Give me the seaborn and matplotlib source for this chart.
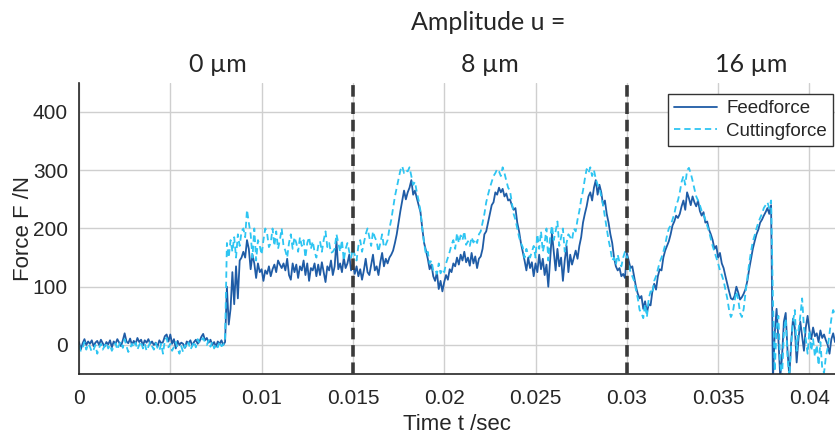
import numpy as np
import pandas as pd
import matplotlib
matplotlib.use('Agg')
import matplotlib.pyplot as plt
import seaborn as sns

SAMPLE_STEP = 0.0001

feed_force = [
    5, -8, 3, 10, 0, 6, 2, 8, -2, 4,
    7, 0, 9, 3, -3, 5, 1, 8, -4, 6,
    2, 10, 4, -2, 8, 20, 6, 3, 11, 0,
    7, 2, 12, 5, 9, -1, 8, 4, 10, 2,
    6, 0, 4, -3, 8, 3, 5, 15, 18, 6,
    18, 2, 10, -6, 7, 0, 4, 2, -5, 6,
    3, 8, -1, 5, 9, 2, 6, 14, 19, 8,
    12, 4, 9, 0, 5, -3, 6, 2, 8, 0,
    5, 100, 35, 62, 125, 70, 135, 80, 145, 150,
    160, 150, 180, 165, 130, 155, 140, 115, 140, 125,
    130, 110, 128, 122, 135, 118, 130, 138, 125, 145,
    138, 132, 140, 128, 148, 120, 112, 140, 125, 138,
    115, 135, 128, 145, 120, 140, 110, 132, 128, 140,
    118, 138, 120, 142, 125, 108, 135, 128, 145, 120,
    135, 178, 130, 140, 125, 150, 132, 140, 155, 128,
    140, 122, 135, 118, 130, 112, 128, 148, 125, 120,
    138, 155, 128, 135, 120, 142, 158, 135, 148, 140,
    150, 155, 162, 175, 190, 210, 230, 248, 265, 250,
    262, 270, 283, 258, 265, 252, 240, 228, 200, 175,
    162, 148, 130, 138, 118, 110, 125, 96, 110, 92,
    108, 120, 112, 130, 125, 140, 135, 150, 138, 155,
    145, 160, 142, 150, 136, 158, 140, 152, 132, 148,
    152, 165, 190, 195, 210, 225, 240, 245, 262, 258,
    270, 262, 268, 255, 260, 248, 250, 240, 232, 235,
    210, 195, 175, 160, 145, 128, 150, 132, 142, 118,
    140, 125, 155, 130, 148, 120, 138, 100, 145, 192,
    160, 128, 165, 135, 150, 110, 145, 170, 125, 155,
    138, 150, 162, 148, 170, 185, 210, 225, 238, 255,
    262, 248, 270, 283, 258, 275, 262, 240, 248, 225,
    210, 190, 175, 150, 135, 128, 132, 118, 122, 115,
    158, 145, 132, 135, 118, 100, 88, 80, 84, 62,
    75, 55, 70, 68, 92, 105, 95, 118, 130, 128,
    150, 162, 170, 178, 190, 205, 212, 222, 218, 225,
    238, 248, 232, 262, 252, 240, 255, 245, 238, 248,
    230, 222, 228, 210, 212, 198, 190, 180, 165, 170,
    150, 158, 140, 132, 118, 105, 92, 80, 78, 84,
    100, 90, 78, 82, 88, 96, 110, 130, 148, 165,
    178, 190, 198, 210, 215, 222, 228, 235, 225, 240,
    -60, 20, 62, 10, -55, -20, 40, 55, -10, -55,
    5, 45, 30, -30, 10, 40, 15, -10, 30, 50,
    25, 10, 30, 15, 20, 5, 25, 12, 18, 8,
    0, -15, 10, 20, 5,
]

cutting_force = [
    0, -10, -5, 5, -8, 2, -3, -12, -8, 0,
    -15, -5, 2, -8, -2, 4, -6, 0, -10, -3,
    3, -8, 0, 6, -5, 10, -2, -12, -6, 2,
    -4, 4, -8, 0, 6, -6, 2, -10, -3, 5,
    -2, -8, 3, -5, -10, 2, -15, 8, 12, -4,
    2, -10, -3, 5, -6, -15, -2, -12, 0, -5,
    4, -8, -2, 6, -4, 10, 3, 8, 12, 5,
    0, 8, -3, 5, -6, 2, -4, 6, -2, 0,
    10, 175, 150, 180, 160, 185, 150, 190, 170, 195,
    200, 185, 232, 210, 190, 150, 200, 145, 180, 170,
    155, 180, 200, 192, 168, 175, 200, 170, 195, 165,
    180, 200, 170, 162, 150, 175, 190, 165, 185, 175,
    160, 185, 170, 180, 150, 175, 185, 165, 178, 160,
    150, 170, 178, 160, 180, 195, 168, 175, 158, 160,
    165, 190, 175, 160, 180, 145, 165, 175, 160, 150,
    165, 155, 145, 170, 180, 160, 175, 190, 200, 185,
    170, 195, 185, 178, 160, 175, 190, 168, 172, 180,
    200, 215, 235, 255, 270, 285, 300, 307, 295, 300,
    298, 305, 290, 275, 280, 262, 248, 230, 200, 175,
    155, 160, 140, 145, 128, 130, 122, 140, 123, 130,
    125, 140, 150, 160, 172, 180, 165, 192, 175, 188,
    180, 195, 172, 178, 170, 185, 176, 182, 175, 190,
    195, 210, 225, 245, 258, 270, 280, 290, 295, 302,
    298, 290, 305, 295, 282, 270, 265, 245, 225, 215,
    200, 185, 175, 168, 150, 165, 155, 150, 160, 170,
    150, 190, 165, 195, 160, 175, 200, 145, 185, 205,
    180, 195, 212, 170, 185, 200, 160, 175, 190, 185,
    180, 200, 195, 215, 230, 250, 265, 285, 302, 295,
    305, 290, 300, 285, 275, 270, 255, 240, 220, 200,
    180, 165, 145, 150, 138, 155, 142, 135, 150, 160,
    152, 140, 125, 118, 110, 95, 80, 60, 55, 46,
    70, 48, 80, 92, 88, 110, 118, 130, 142, 150,
    160, 172, 188, 200, 205, 215, 225, 240, 248, 262,
    280, 290, 275, 300, 304, 295, 282, 268, 255, 248,
    240, 230, 225, 215, 205, 195, 182, 170, 160, 150,
    140, 128, 120, 110, 95, 80, 60, 48, 55, 75,
    92, 78, 55, 48, 62, 90, 115, 140, 160, 178,
    188, 200, 210, 218, 225, 235, 240, 245, 235, 248,
    80, -45, 30, 50, -30, -55, 20, 45, -20, -55,
    0, 40, 60, -10, 25, 50, 80, 30, 10, -15,
    25, -10, 10, -20, 0, -35, 5, -40, -48, -20,
    -5, 20, 45, 60, 52,
]

phase_bounds = [0.015, 0.03]
amplitude_labels = ['0 µm', '8 µm', '16 µm']
amplitude_x = [0.0076, 0.0225, 0.0368]
x_ticks = [0, 0.005, 0.01, 0.015, 0.02, 0.025, 0.03, 0.035, 0.04]
x_tick_labels = ['0', '0.005', '0.01', '0.015', '0.02', '0.025', '0.03', '0.035', '0.04']
y_ticks = [0, 100, 200, 300, 400]


def main():
    time = np.arange(len(feed_force)) * SAMPLE_STEP
    df = pd.DataFrame({'time': time, 'Feedforce': feed_force, 'Cuttingforce': cutting_force})

    sns.set_style('whitegrid')
    plt.rcParams['font.family'] = ['Liberation Sans', 'DejaVu Sans']

    fig = plt.figure(figsize=(8.35, 4.36), dpi=100)
    ax = fig.add_axes([0.0946, 0.142, 0.9054, 0.668])

    sns.lineplot(data=df, x='time', y='Feedforce', ax=ax, color='#1f5ca6', lw=1.3, label='Feedforce')
    sns.lineplot(data=df, x='time', y='Cuttingforce', ax=ax, color='#2ec5f2', lw=1.3,
                 label='Cuttingforce')
    ax.lines[1].set_dashes((3.5, 2.2))

    for b in phase_bounds:
        ax.axvline(b, color='#3a3a3a', lw=2.6, dashes=(3.2, 1.6), zorder=3)

    ax.set_xlim(0, 0.0414)
    ax.set_ylim(-50, 450)
    ax.set_xticks(x_ticks)
    ax.set_xticklabels(x_tick_labels)
    ax.set_yticks(y_ticks)
    ax.tick_params(labelsize=15, length=0, colors='#262626')
    ax.tick_params(axis='x', pad=11)
    ax.tick_params(axis='y', pad=8)
    ax.grid(True, color='#cfcfcf', lw=1)
    for side in ['top', 'right']:
        ax.spines[side].set_visible(False)
    for side in ['left', 'bottom']:
        ax.spines[side].set_color('#262626')
        ax.spines[side].set_linewidth(1.2)

    ax.set_xlabel('Time t /sec', fontsize=16, color='#262626', labelpad=4)
    ax.set_ylabel('Force F /N', fontsize=16, color='#262626', labelpad=-1)

    leg = ax.legend(loc='upper right', fontsize=13.5, frameon=True, fancybox=False,
                    handlelength=2.3, handletextpad=0.5, borderpad=0.3, labelspacing=0.3,
                    bbox_to_anchor=(0.997, 0.96), borderaxespad=0)
    leg.get_frame().set_edgecolor('#333333')
    leg.get_frame().set_linewidth(1.0)
    leg.get_frame().set_alpha(1)

    fig.text(0.585, 0.948, 'Amplitude u =', ha='center', va='center', fontsize=18, family='Lato')
    for xv, lab in zip(amplitude_x, amplitude_labels):
        xf = 0.0946 + 0.9054 * xv / 0.0414
        fig.text(xf, 0.853, lab, ha='center', va='center', fontsize=18, family='Lato')

    fig.savefig('out.png', dpi=100)


if __name__ == '__main__':
    main()
